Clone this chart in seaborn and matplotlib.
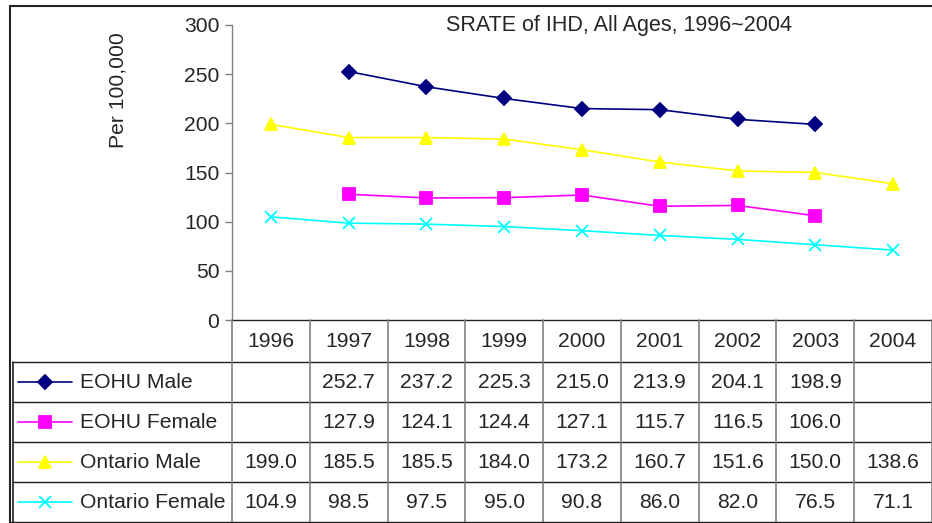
import numpy as np
import pandas as pd
import matplotlib
matplotlib.use("Agg")
import matplotlib.pyplot as plt
import seaborn as sns
from matplotlib.lines import Line2D
from matplotlib.patches import Rectangle

years = ["1996", "1997", "1998", "1999", "2000", "2001", "2002", "2003", "2004"]
series_names = ["EOHU Male", "EOHU Female", "Ontario Male", "Ontario Female"]
eohu_male = [np.nan, 252.7, 237.2, 225.3, 215.0, 213.9, 204.1, 198.9, np.nan]
eohu_female = [np.nan, 127.9, 124.1, 124.4, 127.1, 115.7, 116.5, 106.0, np.nan]
ontario_male = [199.0, 185.5, 185.5, 184.0, 173.2, 160.7, 151.6, 150.0, 138.6]
ontario_female = [104.9, 98.5, 97.5, 95.0, 90.8, 86.0, 82.0, 76.5, 71.1]
title = "SRATE of IHD, All Ages, 1996~2004"
ylabel = "Per 100,000"
yticks = [0, 50, 100, 150, 200, 250, 300]

colors = {"EOHU Male": "#000080", "EOHU Female": "#FF00FF",
          "Ontario Male": "#FFFF00", "Ontario Female": "#00FFFF"}
markers = {"EOHU Male": "D", "EOHU Female": "s",
           "Ontario Male": "^", "Ontario Female": "x"}
msizes = {"EOHU Male": 7, "EOHU Female": 8, "Ontario Male": 9, "Ontario Female": 9}

values = [eohu_male, eohu_female, ontario_male, ontario_female]
rows = []
for name, vals in zip(series_names, values):
    for i, v in enumerate(vals):
        rows.append({"idx": i, "value": v, "series": name})
df = pd.DataFrame(rows)

sns.set_theme(style="white")
plt.rcParams["font.family"] = ["Liberation Sans", "DejaVu Sans"]

FS = 15.2
W, H = 932, 523
fig = plt.figure(figsize=(W / 100, H / 100), dpi=100)

def fx(px):
    return px / W

def fy(py):
    return 1 - py / H

# outer chart border
fig.patches.append(Rectangle((fx(10), fy(523)), fx(960) - fx(10), fy(6) - fy(523),
                             transform=fig.transFigure, fill=False,
                             edgecolor="#222222", linewidth=1.5, zorder=0))

left_px, right_px, top_px, bot_px = 232, 932, 25, 320
ax = fig.add_axes([fx(left_px), fy(bot_px), fx(right_px) - fx(left_px), fy(top_px) - fy(bot_px)])
ax.set_facecolor("none")

for name in series_names:
    sub = df[(df["series"] == name)].dropna()
    sns.lineplot(data=sub, x="idx", y="value", ax=ax, color=colors[name],
                 marker=markers[name], markersize=msizes[name],
                 markeredgecolor=colors[name], markerfacecolor=colors[name],
                 markeredgewidth=1.3, linewidth=1.2, legend=False)

ax.set_xlim(-0.5, len(years) - 0.5)
ax.set_ylim(0, 300)
ax.set_yticks(yticks)
ax.set_yticklabels([str(t) for t in yticks], fontsize=FS)
ax.set_xticks([])
ax.set_xlabel("")
ax.set_ylabel("")
ax.tick_params(axis="y", length=5, width=1, color="#808080", pad=4, left=True, direction="out")
for s in ["top", "right"]:
    ax.spines[s].set_visible(False)
ax.spines["left"].set_color("#808080")
ax.spines["bottom"].set_color("#222222")
ax.spines["left"].set_linewidth(1)
ax.spines["bottom"].set_linewidth(1)

fig.text(fx(118), fy(90), ylabel, ha="center", va="center", rotation=90, fontsize=FS)
fig.text(fx(619), fy(25), title, ha="center", va="center", fontsize=15.5)

# data table
tab_left, tab_right, tab_top, tab_bot = 13, 932, 320, 522
tax = fig.add_axes([fx(tab_left), fy(tab_bot), fx(tab_right) - fx(tab_left), fy(tab_top) - fy(tab_bot)])
colw = (right_px - left_px) / len(years)
xleft = -0.5 - (left_px - tab_left) / colw
tax.set_xlim(xleft, len(years) - 0.5)
header_h = 1.06
nrows = len(series_names)
ybottom = header_h + nrows
tax.set_ylim(ybottom, 0)
tax.axis("off")

row_edges = [header_h + r for r in range(nrows + 1)]
for e in row_edges:
    tax.plot([xleft, len(years) - 0.5], [e, e], color="#222222", lw=1, clip_on=False)
for k in range(len(years) + 1):
    tax.plot([k - 0.5, k - 0.5], [0, ybottom], color="#808080", lw=1.2, clip_on=False)
tax.plot([xleft, xleft], [header_h, ybottom], color="#222222", lw=1.2, clip_on=False)

for i, yr in enumerate(years):
    tax.text(i, header_h / 2 + 0.02, yr, ha="center", va="center", fontsize=FS)

leg_x0 = xleft + (18 - tab_left) / colw
leg_x1 = xleft + (72 - tab_left) / colw
leg_txt = xleft + (80 - tab_left) / colw
for r, (name, vals) in enumerate(zip(series_names, values)):
    yc = header_h + r + 0.5
    tax.add_line(Line2D([leg_x0, leg_x1], [yc, yc], color=colors[name], lw=1.2))
    tax.add_line(Line2D([(leg_x0 + leg_x1) / 2], [yc], color=colors[name],
                        marker=markers[name], markersize=msizes[name],
                        markerfacecolor=colors[name], markeredgecolor=colors[name],
                        markeredgewidth=1.3, linestyle="none"))
    tax.text(leg_txt, yc, name, ha="left", va="center", fontsize=FS)
    for i, v in enumerate(vals):
        if not np.isnan(v):
            tax.text(i, yc, f"{v:.1f}", ha="center", va="center", fontsize=FS)

fig.savefig("out.png", dpi=100)
